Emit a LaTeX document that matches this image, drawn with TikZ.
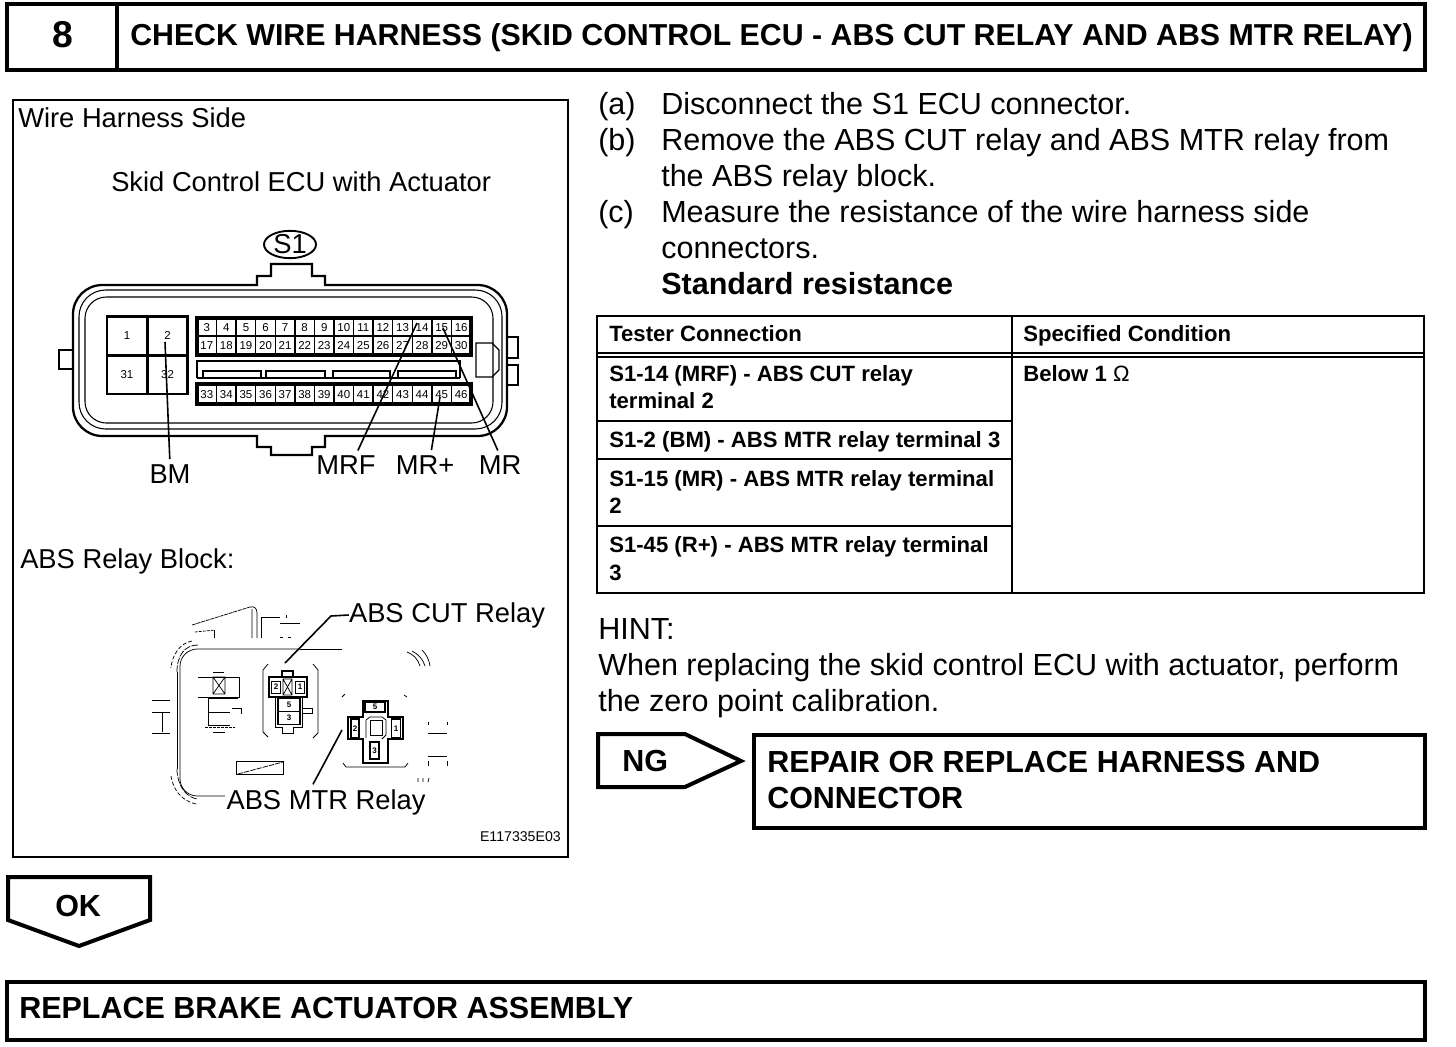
\documentclass[tikz,border=0pt]{standalone}
\usepackage{fontspec}
\usetikzlibrary{shapes.geometric}
\setmainfont{Liberation Sans}
\tikzset{
  heavy/.style={line width=3pt},
  panelline/.style={line width=1.5pt},
  rowline/.style={line width=1.6pt},
  hair/.style={line width=0.55pt},
  leader/.style={draw, line width=1.2pt, shorten >=4pt},
  body/.style={anchor=base west, inner sep=0pt, align=left, font=\fontsize{22.9pt}{27pt}\selectfont},
  panel/.style={anchor=base west, inner sep=0pt, font=\fontsize{20.5pt}{24pt}\selectfont},
  caps/.style={anchor=base west, inner sep=0pt, align=left, font=\fontsize{22.85pt}{27pt}\selectfont\bfseries},
  cell/.style={anchor=base west, inner sep=0pt, align=left, font=\fontsize{16.6pt}{20.4pt}\selectfont\bfseries},
  pinbox/.style={draw, line width=1pt, minimum width=14.68pt, minimum height=13.5pt, inner sep=0pt, text height=6.2pt, text depth=0pt, font=\fontsize{8.6pt}{9pt}\selectfont},
  bigpin/.style={draw, line width=2pt, minimum width=30pt, minimum height=29pt, inner sep=0pt, text height=6.2pt, text depth=0pt, font=\fontsize{8.6pt}{9pt}\selectfont},
  tiny/.style={inner sep=0pt, text height=4.3pt, text depth=0pt, font=\fontsize{6pt}{6pt}\selectfont\bfseries},
}
\begin{document}
\begin{tikzpicture}[x=0.75pt, y=-0.75pt]
  \useasboundingbox (0,0) rectangle (1456,1046);
  % title bar
  \draw[heavy] (7,4) rectangle (1425,70) (117,4) -- (117,70);
  \node [caps, font=\fontsize{28pt}{30pt}\selectfont\bfseries] (stepno) at (52,47) {8};
  \node [caps, font=\fontsize{22.73pt}{27pt}\selectfont\bfseries] (title) at (130,45) {CHECK WIRE HARNESS (SKID CONTROL ECU - ABS CUT RELAY AND ABS MTR RELAY)};
  % left panel
  \draw[panelline] (13,100) rectangle (568,857);
  \node [panel] (sidetxt) at (18,127) {Wire Harness Side};
  \node [panel] (ecutxt) at (111,191) {Skid Control ECU with Actuator};
  \node [panel] (blocktxt) at (20,568) {ABS Relay Block:};
  \node [draw, ellipse, line width=1.4pt, minimum width=39pt, minimum height=20pt, inner sep=0pt, font=\fontsize{20.5pt}{24pt}\selectfont] (sone) at (290,244.5) {S1};
  % connector housing
  \draw[line width=1.7pt] (73,370) [rounded corners=22pt] -- (73,285) [sharp corners] -- (257,285) -- (257,276) -- (271,276) -- (271,264) -- (312,264) -- (312,276) -- (325,276) -- (325,285) [rounded corners=22pt] -- (507,285) -- (507,436) [sharp corners] -- (325,436) -- (325,447) -- (312,447) -- (312,455) -- (271,455) -- (271,447) -- (257,447) -- (257,436) [rounded corners=22pt] -- (73,436) -- cycle;
  \draw[hair, line width=0.8pt, rounded corners=20pt] (79,290) rectangle (502,429);
  \draw[hair, line width=0.8pt, rounded corners=16pt] (85,297) rectangle (493,423);
  \draw[line width=1.5pt] (73,350) -- (59,350) -- (59,369) -- (73,369);
  \draw[line width=1.5pt] (507,337) -- (518,337) -- (518,358) -- (507,358) (507,365) -- (518,365) -- (518,385) -- (507,385);
  \draw[line width=0.9pt] (476,343) -- (492,343) -- (499,350) -- (499,370) -- (492,377) -- (476,377) -- cycle;
  % slots between the pin rows
  \draw[line width=0.9pt] (197,378) -- (197,361) -- (460,361) -- (460,378) (197,378) -- (460,378);
  \draw[line width=0.9pt] (203,378) -- (203,371) -- (261,371) -- (261,378) (266,378) -- (266,371) -- (325,371) -- (325,378) (333,378) -- (333,371) -- (390,371) -- (390,378) (398,378) -- (398,371) -- (456,371) -- (456,378);
  % pins
  \node [bigpin] (p1) at (127,335.5) {1};
  \node [bigpin] (p2) at (167.5,335.5) {2};
  \node [bigpin] (p31) at (127,374.5) {31};
  \node [bigpin] (p32) at (167.5,374.5) {32};
  \draw[line width=3pt] (197,318) rectangle (471,354.5) (197,384) rectangle (471,403.5);
  \foreach \n [count=\i from 0] in {3,...,16}
    \node [pinbox] (p\n) at ({206.8+19.57*\i},327) {\n};
  \foreach \n [count=\i from 0] in {17,...,30}
    \node [pinbox] (p\n) at ({206.8+19.57*\i},345.5) {\n};
  \foreach \n [count=\i from 0] in {33,...,46}
    \node [pinbox] (p\n) at ({206.8+19.57*\i},394) {\n};
  % pin labels
  \node [panel, anchor=center] (bm) at (170,474) {BM};
  \node [panel, anchor=center] (mrf) at (346,465) {MRF};
  \node [panel, anchor=center] (mrplus) at (425,465) {MR+};
  \node [panel, anchor=center] (mr) at (500,465) {MR};
  \coordinate (bmend) at (165,342);
  \coordinate (mrfend) at (417,323);
  \coordinate (mrplusend) at (440,397);
  \coordinate (mrend) at (443,328);
  \draw[leader] (bmend) -- (bm.north);
  \draw[leader] (mrfend) -- (mrf.45);
  \draw[leader] (mrplusend) -- (mrplus.60);
  \draw[leader] (mrend) -- (mr.north);
  % relay block outline
  \draw[hair, rounded corners=13pt] (300,649) -- (180,649) -- (180,796) -- (225,796);
  \draw[hair, dash pattern=on 5pt off 1pt] (198,645) .. controls (185,645) and (177,655) .. (177,672);
  \draw[hair, dash pattern=on 3pt off 1.5pt] (192,641) .. controls (180,643) and (172,655) .. (171,668);
  \draw[hair] (177,672) -- (177,769) (300,649) -- (342,649);
  \draw[hair, dash pattern=on 5pt off 1pt] (177,769) .. controls (177,785) and (186,798) .. (198,799);
  \draw[hair, dash pattern=on 3pt off 1.5pt] (171,776) .. controls (173,790) and (182,801) .. (196,804);
  \draw[hair, dash pattern=on 3pt off 0.6pt] (192,625) -- (250,607);
  \draw[hair] (250,607) .. controls (254,606) and (257,608) .. (257,613) -- (257,638) (252,609) -- (252,638);
  \draw[hair] (261,638) -- (261,617) -- (280,617) (280,623) -- (300,623) (286,615) -- (286,618);
  \draw[hair, dash pattern=on 2pt off 1pt] (195,632) -- (215,630);
  \draw[hair] (214,630) -- (214,638) (280,637) -- (283,637) (288,637) -- (291,637);
  % left relay seat
  \draw[hair] (198,677) -- (239,677) -- (239,697) -- (198,697);
  \draw[hair] (213,677) rectangle (225,694) (213,677) -- (225,694) (225,677) -- (213,694);
  \draw[hair] (213,672) -- (224,672);
  \draw[hair] (238,698) -- (208,698) -- (208,725) -- (230,725) (208,712) -- (230,712);
  \draw[hair] (232,708) -- (241,708) -- (241,714);
  \draw[hair, dash pattern=on 2pt off 1pt] (205,727) -- (235,727);
  \draw[hair] (213,732) -- (225,732);
  \draw[hair] (152,700) -- (170,700) (152,712) -- (170,712) (162,712) -- (162,732) (152,733) -- (170,733);
  \draw[hair] (236,761) rectangle (283,774);
  \draw[hair, dash pattern=on 4pt off 0.8pt] (238,774) -- (283,762);
  % ABS CUT relay seat
  \draw[hair] (268,664) -- (263,670) -- (263,732) -- (268,737) (313,664) -- (318,670) -- (318,733) -- (313,738);
  \draw[line width=0.9pt] (269,677) rectangle (307,697);
  \draw[line width=1.4pt] (282,677) -- (282,671) -- (293,671) -- (293,677);
  \node [tiny, draw, line width=0.7pt, minimum width=7pt, minimum height=9pt] (cuttwo) at (276,687) {2};
  \node [tiny, draw, line width=0.7pt, minimum width=7pt, minimum height=9pt] (cutone) at (300,687) {1};
  \draw[hair] (283,679) rectangle (292,695) (283,679) -- (292,695) (292,679) -- (283,695);
  \draw[hair] (275,697) -- (275,727) -- (282,727) -- (282,733) -- (293,733) -- (293,727) -- (302,727) -- (302,697);
  \node [tiny, draw, line width=0.8pt, minimum width=16.5pt, minimum height=10pt] (cutfive) at (289,705) {5};
  \node [tiny, draw, line width=0.8pt, minimum width=16.5pt, minimum height=10pt] (cutthree) at (289,718) {3};
  \draw[hair] (302,708) -- (312,708) -- (312,713) -- (302,713);
  % ABS MTR relay seat
  \draw[line width=0.9pt] (363,717) -- (363,701) -- (388,701) -- (388,717) -- (403,717) -- (403,739) -- (388,739) -- (388,763) -- (363,763) -- (363,739) -- (348,739) -- (348,717) -- cycle;
  \node [tiny, draw, line width=1.2pt, minimum width=15pt, minimum height=7.5pt] (mtrfive) at (375,707) {5};
  \node [tiny, draw, line width=1.2pt, minimum width=6pt, minimum height=14pt] (mtrtwo) at (355,728.5) {2};
  \node [tiny, draw, line width=1.2pt, minimum width=7pt, minimum height=14pt] (mtrone) at (396,728.5) {1};
  \node [tiny, draw, line width=1.2pt, minimum width=7pt, minimum height=13pt] (mtrthree) at (374.5,750.5) {3};
  \draw[hair] (370,720) rectangle (382,735);
  \draw[hair] (366,720) -- (370,717) -- (382,717) -- (386,720) -- (386,735) -- (382,739) (366,720) -- (366,738);
  \draw[hair] (343,763) -- (346,767) -- (405,767) -- (408,763);
  \draw[hair] (342,697) -- (345,694) (404,695) -- (407,697);
  \draw[hair] (407,652) .. controls (413,654) and (418,659) .. (420,666) (412,651) .. controls (418,654) and (423,659) .. (425,666) (422,650) .. controls (426,654) and (429,659) .. (430,666);
  \draw[hair] (428,733) -- (447,733) (428,756) -- (447,756);
  \draw[hair] (428,722) -- (428,725) (447,722) -- (447,725) (428,761) -- (428,766) (447,761) -- (447,766);
  \draw[hair] (418,778) -- (418,782) (423,778) -- (423,782) (429,778) -- (428,782);
  % relay labels
  \node [panel, anchor=center] (cutlbl) at (447,615) {ABS CUT Relay};
  \node [panel, anchor=center] (mtrlbl) at (326,802) {ABS MTR Relay};
  \coordinate (cutend) at (285,663);
  \coordinate (mtrend) at (342,730);
  \draw[line width=1.2pt] (cutlbl.west) -- (331,616) -- (cutend);
  \draw[leader] (mtrend) -- (mtrlbl.140);
  \node [anchor=base east, inner sep=0pt, font=\fontsize{10.6pt}{11pt}\selectfont] (figcode) at (561,841) {E117335E03};
  % steps
  \node [body] (stepa) at (598,114) {(a)};
  \node [body] (texta) at (661,114) {Disconnect the S1 ECU connector.};
  \node [body] (stepb) at (598,150) {(b)};
  \node [body] (textb) at (661,186) {Remove the ABS CUT relay and ABS MTR relay from\\the ABS relay block.};
  \node [body] (stepc) at (598,222) {(c)};
  \node [body] (textc) at (661,294) {Measure the resistance of the wire harness side\\connectors.\\\textbf{Standard resistance}};
  % table
  \draw[line width=2pt] (597,316) rectangle (1424,593) (1012,316) -- (1012,593);
  \draw[rowline] (597,353) -- (1424,353) (597,357) -- (1424,357);
  \draw[rowline] (597,421) -- (1012,421) (597,459) -- (1012,459) (597,526) -- (1012,526);
  \node [cell] (headleft) at (609,341) {Tester Connection};
  \node [cell] (headright) at (1023,341) {Specified Condition};
  \node [cell] (rowone) at (609,408.5) {S1-14 (MRF) - ABS CUT relay\\terminal 2};
  \node [cell] (rowtwo) at (609,447) {S1-2 (BM) - ABS MTR relay terminal 3};
  \node [cell] (rowthree) at (609,513.5) {S1-15 (MR) - ABS MTR relay terminal\\2};
  \node [cell] (rowfour) at (609,580) {S1-45 (R+) - ABS MTR relay terminal\\3};
  \node [cell] (below) at (1023,381) {Below 1 {\mdseries Ω}};
  % hint
  \node [body] (hint) at (598,711) {HINT:\\When replacing the skid control ECU with actuator, perform\\the zero point calibration.};
  % result boxes
  \draw[heavy] (598,734) -- (685,734) -- (741,761) -- (685,787) -- (598,787) -- cycle;
  \node [caps] (nglbl) at (622,771) {NG};
  \draw[heavy] (754,735) rectangle (1425,828);
  \node [caps] (repair) at (767,808) {REPAIR OR REPLACE HARNESS AND\\CONNECTOR};
  \draw[heavy] (8,877) -- (150,877) -- (150,920) -- (79,946) -- (8,920) -- cycle;
  \node [caps] (oklbl) at (55,916) {OK};
  \draw[heavy] (7,982) rectangle (1425,1040);
  \node [caps] (replace) at (19,1018) {REPLACE BRAKE ACTUATOR ASSEMBLY};
\end{tikzpicture}
\end{document}
